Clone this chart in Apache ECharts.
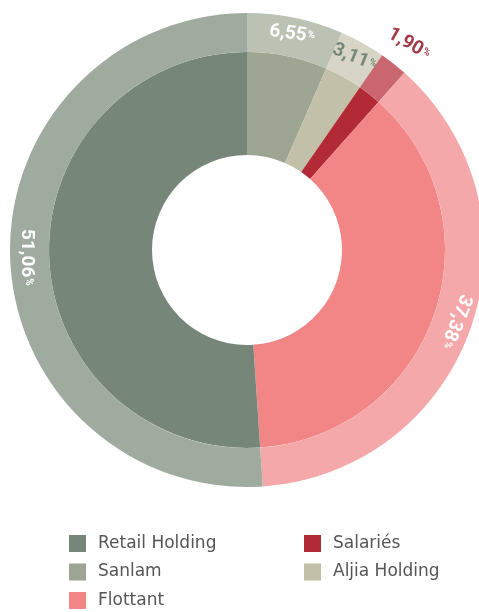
<!DOCTYPE html>
<html>
<head>
<meta charset="utf-8">
<script src="https://cdn.jsdelivr.net/npm/echarts@6/dist/echarts.min.js"></script>
<style>
  html, body { margin: 0; padding: 0; background: #fff; }
  #main { width: 479px; height: 612px; }
</style>
</head>
<body>
<div id="main"></div>
<script>
// order clockwise from 12 o'clock
var names = ['Sanlam', 'Aljia Holding', 'Salariés', 'Flottant', 'Retail Holding'];
var values = [6.55, 3.11, 1.90, 37.38, 51.06];
var labels = ['6,55', '3,11', '1,90', '37,38', '51,06'];
var innerColors = ['#9ea592', '#c3c0a9', '#b32a37', '#f28585', '#76877a'];
var outerColors = ['#bcc2b3', '#d7d5c5', '#c9666f', '#f5a8aa', '#a0aba0'];

window.onload = function(){
  var chart = echarts.init(document.getElementById('main'));

  var labelColors = ['#ffffff', '#76877a', '#a33a47', '#ffffff', '#ffffff'];
  var rotates = [-8, -22, -30, -112, -90];
  // labels drawn in the band itself, except the small one sits just outside
  var outside = [false, false, true, false, false];

  function labelOf(i){
    return {
      show: true,
      position: 'inside',
      rotate: rotates[i],
      formatter: '{a|' + labels[i] + '}{b|%}',
      rich: {
        a: { color: labelColors[i], fontSize: 19, fontWeight: 'bold', fontFamily: 'Roboto, sans-serif' },
        b: { color: labelColors[i], fontSize: 10, fontWeight: 'bold', fontFamily: 'Roboto, sans-serif', padding: [0, 0, 3, 1] }
      }
    };
  }

  var innerData = [];
  var outerData = [];
  var ringData = [];
  for(var i=0;i<names.length;i++){
    innerData.push({
      name: names[i],
      value: values[i],
      itemStyle: { color: innerColors[i] }
    });
    outerData.push({
      name: names[i] + ' ',
      value: values[i],
      itemStyle: { color: outerColors[i] },
      label: outside[i] ? { show: false } : labelOf(i)
    });
    ringData.push({
      name: names[i] + '  ',
      value: values[i],
      itemStyle: { color: 'rgba(0,0,0,0)' },
      label: outside[i] ? labelOf(i) : { show: false }
    });
  }

  var legendText = {
    color: '#555555',
    fontSize: 17,
    lineHeight: 17,
    fontFamily: 'DejaVu Sans, sans-serif',
    padding: [0, 0, 0, 7]
  };

  var opt = {
    animation: false,
    legend: [{
      orient: 'vertical',
      left: 69,
      top: 535,
      height: 80,
      padding: 0,
      icon: 'rect',
      itemWidth: 17,
      itemHeight: 17,
      itemGap: 11.5,
      textStyle: legendText,
      data: ['Retail Holding', 'Sanlam', 'Flottant']
    }, {
      orient: 'vertical',
      left: 304,
      top: 535,
      height: 80,
      padding: 0,
      icon: 'rect',
      itemWidth: 17,
      itemHeight: 17,
      itemGap: 11.5,
      textStyle: legendText,
      data: ['Salariés', 'Aljia Holding']
    }],
    series: [{
      name: 'inner',
      type: 'pie',
      center: [247, 250],
      radius: [95, 198],
      startAngle: 90,
      clockwise: true,
      label: { show: false },
      labelLine: { show: false },
      silent: true,
      data: innerData
    }, {
      name: 'outer',
      type: 'pie',
      center: [247, 250],
      radius: [198, 237],
      startAngle: 90,
      clockwise: true,
      silent: true,
      labelLine: { show: false },
      data: outerData
    }, {
      name: 'ring',
      type: 'pie',
      center: [247, 250],
      radius: [237, 281],
      startAngle: 90,
      clockwise: true,
      silent: true,
      labelLine: { show: false },
      data: ringData
    }]
  };

  chart.setOption(opt);
}
</script>
</body>
</html>
